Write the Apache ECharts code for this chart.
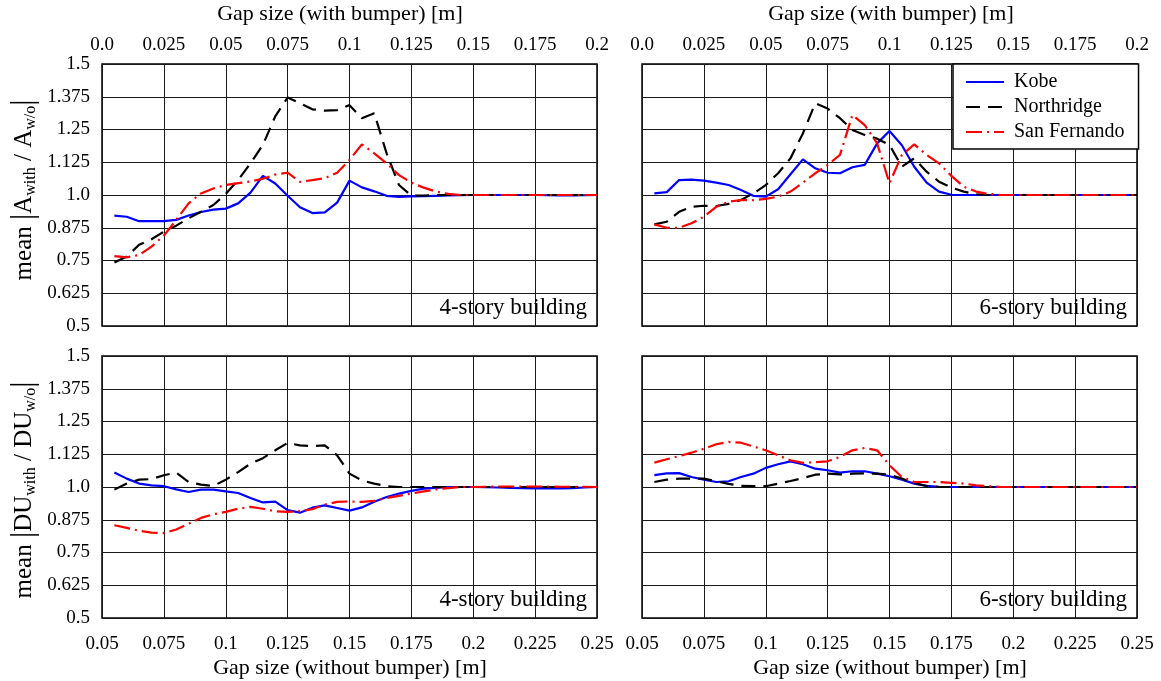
<!DOCTYPE html>
<html>
<head>
<meta charset="utf-8">
<script src="https://cdn.jsdelivr.net/npm/echarts@6/dist/echarts.min.js"></script>
<style>
html,body{margin:0;padding:0;background:#fff;}
#chart{width:1161px;height:681px;}
</style>
</head>
<body>
<div id="chart"></div>
<script>
// Gap sizes
var gapWith = [0.005,0.010,0.015,0.020,0.025,0.030,0.035,0.040,0.045,0.050,
  0.055,0.060,0.065,0.070,0.075,0.080,0.085,0.090,0.095,0.100,
  0.105,0.110,0.115,0.120,0.125,0.130,0.135,0.140,0.145,0.150,
  0.155,0.160,0.165,0.170,0.175,0.180,0.185,0.190,0.195,0.200];
var gapWithout = [0.055,0.060,0.065,0.070,0.075,0.080,0.085,0.090,0.095,0.100,
  0.105,0.110,0.115,0.120,0.125,0.130,0.135,0.140,0.145,0.150,
  0.155,0.160,0.165,0.170,0.175,0.180,0.185,0.190,0.195,0.200,
  0.205,0.210,0.215,0.220,0.225,0.230,0.235,0.240,0.245,0.250];

var seriesNames = ['Kobe','Northridge','San Fernando'];
var panelLabels = ['4-story building','6-story building','4-story building','6-story building'];
var yTicks = [0.5,0.625,0.75,0.875,1.0,1.125,1.25,1.375,1.5];
var xTopTicks = [0,0.025,0.05,0.075,0.1,0.125,0.15,0.175,0.2];
var xBottomTicks = [0.05,0.075,0.1,0.125,0.15,0.175,0.2,0.225,0.25];

// Acceleration ratio, 4-story (top-left), x = gap with bumper
var accel4Kobe = [0.921,0.917,0.900,0.900,0.900,0.905,0.922,0.935,0.944,0.948,
  0.968,1.009,1.073,1.044,0.997,0.953,0.931,0.934,0.971,1.055,
  1.029,1.014,0.997,0.993,0.995,0.996,0.997,0.998,0.999,1.000,
  1.000,1.000,1.000,1.000,1.000,0.999,0.998,0.998,0.999,1.000];
var accel4North = [0.742,0.765,0.810,0.831,0.860,0.883,0.911,0.936,0.962,1.004,
  1.057,1.121,1.191,1.300,1.372,1.350,1.327,1.322,1.324,1.343,
  1.293,1.312,1.159,1.038,0.997,0.998,1.000,1.000,1.000,1.000,
  1.000,1.000,1.000,1.000,1.000,1.000,1.000,1.000,1.000,1.000];
var accel4SanF = [0.767,0.762,0.771,0.803,0.845,0.905,0.968,1.006,1.025,1.038,
  1.045,1.052,1.062,1.078,1.085,1.050,1.057,1.064,1.085,1.134,
  1.193,1.159,1.121,1.076,1.047,1.028,1.013,1.004,1.000,1.000,
  1.000,1.000,1.000,1.000,1.000,1.000,1.000,1.000,1.000,1.000];

// Acceleration ratio, 6-story (top-right)
var accel6Kobe = [1.006,1.011,1.057,1.059,1.055,1.047,1.038,1.019,0.997,0.994,
  1.022,1.079,1.136,1.102,1.085,1.083,1.106,1.115,1.197,1.244,
  1.190,1.108,1.047,1.013,1.001,1.000,1.000,1.000,1.000,1.000,
  1.000,1.000,1.000,1.000,1.000,1.000,1.000,1.000,1.000,1.000];
var accel6North = [0.888,0.898,0.936,0.955,0.959,0.958,0.966,0.981,1.006,1.038,
  1.083,1.140,1.235,1.350,1.330,1.293,1.248,1.229,1.215,1.191,
  1.108,1.140,1.089,1.051,1.028,1.013,1.003,1.000,1.000,1.000,
  1.000,1.000,1.000,1.000,1.000,1.000,1.000,1.000,1.000,1.000];
var accel6SanF = [0.888,0.875,0.875,0.892,0.917,0.955,0.974,0.981,0.980,0.985,
  0.994,1.013,1.047,1.083,1.115,1.153,1.305,1.267,1.197,1.045,
  1.153,1.193,1.153,1.121,1.073,1.032,1.013,1.004,1.000,1.000,
  1.000,1.000,1.000,1.000,1.000,1.000,1.000,1.000,1.000,1.000];

// Drift ratio, 4-story (bottom-left), x = gap without bumper
var drift4Kobe = [1.055,1.032,1.013,1.006,1.003,0.991,0.981,0.990,0.990,0.983,
  0.977,0.958,0.941,0.944,0.912,0.902,0.921,0.930,0.920,0.910,
  0.922,0.944,0.962,0.975,0.985,0.994,0.997,1.000,1.000,1.000,
  0.999,0.998,0.997,0.996,0.995,0.995,0.995,0.996,0.998,1.000];
var drift4North = [0.990,1.013,1.028,1.030,1.045,1.055,1.019,1.009,1.004,1.028,
  1.057,1.089,1.110,1.140,1.168,1.159,1.156,1.159,1.121,1.051,
  1.025,1.013,1.003,1.000,1.000,1.000,1.000,1.000,1.000,1.000,
  1.000,1.000,1.000,1.000,1.000,1.000,1.000,1.000,1.000,1.000];
var drift4SanF = [0.854,0.844,0.833,0.826,0.824,0.838,0.860,0.882,0.896,0.905,
  0.917,0.924,0.917,0.907,0.905,0.908,0.915,0.933,0.943,0.945,
  0.943,0.947,0.958,0.966,0.975,0.983,0.991,0.996,1.000,1.000,
  1.001,1.002,1.002,1.002,1.002,1.002,1.001,1.001,1.001,1.000];

// Drift ratio, 6-story (bottom-right)
var drift6Kobe = [1.045,1.052,1.053,1.038,1.028,1.019,1.022,1.038,1.051,1.073,
  1.087,1.098,1.087,1.070,1.064,1.055,1.060,1.060,1.051,1.041,
  1.028,1.013,1.004,1.001,1.000,1.000,1.000,1.000,1.000,1.000,
  1.000,1.000,1.000,1.000,1.000,1.000,1.000,1.000,1.000,1.000];
var drift6North = [1.019,1.028,1.032,1.032,1.032,1.022,1.012,1.004,1.003,1.003,
  1.013,1.023,1.034,1.047,1.051,1.048,1.051,1.052,1.051,1.047,
  1.032,1.015,1.004,1.000,1.000,1.000,1.000,1.000,1.000,1.000,
  1.000,1.000,1.000,1.000,1.000,1.000,1.000,1.000,1.000,1.000];
var drift6SanF = [1.093,1.106,1.118,1.131,1.146,1.163,1.172,1.169,1.155,1.140,
  1.121,1.102,1.092,1.095,1.098,1.115,1.140,1.149,1.140,1.083,
  1.038,1.019,1.019,1.019,1.016,1.013,1.006,1.003,1.000,1.000,
  1.000,1.000,1.000,1.000,1.000,1.000,1.000,1.000,1.000,1.000];

var FONT = '"Liberation Serif","Times New Roman",serif';
var colors = ['#0000ff','#000000','#ff0000'];
var dashes = ['solid',[14,8],[16,5,2,5]];

function fmt(v){
  var s = String(+(+v).toFixed(4));
  if (s === '0') return '0.0';
  if (s === '1') return '1.0';
  return s;
}

var grids = [
  {left:102, top:64, width:495, height:262},
  {left:642, top:64, width:495, height:262},
  {left:102, top:356, width:495, height:262},
  {left:642, top:356, width:495, height:262}
];

var panelData = [
  {x: gapWith, ys: [accel4Kobe, accel4North, accel4SanF]},
  {x: gapWith, ys: [accel6Kobe, accel6North, accel6SanF]},
  {x: gapWithout, ys: [drift4Kobe, drift4North, drift4SanF]},
  {x: gapWithout, ys: [drift6Kobe, drift6North, drift6SanF]}
];

var xAxes = [], yAxes = [], series = [], gridOpts = [];
grids.forEach(function(g, i){
  gridOpts.push({left:g.left, top:g.top, width:g.width, height:g.height, show:true,
    borderColor:'#000', borderWidth:1.5, backgroundColor:'#fff', containLabel:false});
  var isTop = i < 2;
  var ticks = isTop ? xTopTicks : xBottomTicks;
  xAxes.push({
    type:'value', gridIndex:i, position: isTop ? 'top' : 'bottom',
    min: ticks[0], max: ticks[ticks.length-1], interval: 0.025,
    axisLine:{show:false}, axisTick:{show:false},
    splitLine:{show:true, lineStyle:{color:'#1a1a1a', width:1}},
    axisLabel:{show:true, formatter:fmt, fontFamily:FONT, fontSize:19, color:'#000',
      margin: isTop ? 9 : 17, showMinLabel:true, showMaxLabel:true}
  });
  yAxes.push({
    type:'value', gridIndex:i,
    min: yTicks[0], max: yTicks[yTicks.length-1], interval: 0.125,
    axisLine:{show:false}, axisTick:{show:false},
    splitLine:{show:true, lineStyle:{color:'#1a1a1a', width:1}},
    axisLabel:{show: (i % 2 === 0), formatter:fmt, fontFamily:FONT, fontSize:19, color:'#000', margin:12}
  });
  var pd = panelData[i];
  for (var s = 0; s < 3; s++) {
    series.push({
      type:'line', name: seriesNames[s], xAxisIndex:i, yAxisIndex:i,
      symbol:'none', showSymbol:false, smooth:false,
      data: pd.x.map(function(xv, k){ return [xv, pd.ys[s][k]]; }),
      lineStyle:{color:colors[s], width:2.2, type:dashes[s]},
      itemStyle:{color:colors[s]},
      z: 3 + s
    });
  }
});

var rich = {
  m:{fontFamily:FONT, fontSize:25, lineHeight:30, color:'#000'},
  b:{fontFamily:FONT, fontSize:31, lineHeight:30, color:'#000'},
  s:{fontFamily:FONT, fontSize:16, lineHeight:10, verticalAlign:'bottom', color:'#000'}
};

var graphics = [];
function addText(x, y, text, size, align, rot){
  graphics.push({type:'text', x:x, y:y, rotation: rot || 0, z:10,
    style:{text:text, fontFamily:FONT, fontSize:size, font: size + 'px ' + FONT, fill:'#000',
      textAlign:align, align:align, textVerticalAlign:'middle', verticalAlign:'middle'}});
}
addText(340, 14, 'Gap size (with bumper) [m]', 22, 'center');
addText(891, 14, 'Gap size (with bumper) [m]', 22, 'center');
addText(350, 668, 'Gap size (without bumper) [m]', 22, 'center');
addText(890, 668, 'Gap size (without bumper) [m]', 22, 'center');
addText(587, 308, panelLabels[0], 23, 'right');
addText(1127, 308, panelLabels[1], 23, 'right');
addText(587, 600, panelLabels[2], 23, 'right');
addText(1127, 600, panelLabels[3], 23, 'right');

graphics.push({type:'text', x:24, y:190, rotation:Math.PI/2, z:10,
  style:{text:'{m|mean }{b||}{m|A}{s|with}{m| / A}{s|w/o}{b||}', rich:rich,
    textAlign:'center', align:'center', textVerticalAlign:'middle', verticalAlign:'middle', fill:'#000'}});
graphics.push({type:'text', x:24, y:490, rotation:Math.PI/2, z:10,
  style:{text:'{m|mean }{b||}{m|DU}{s|with}{m| / DU}{s|w/o}{b||}', rich:rich,
    textAlign:'center', align:'center', textVerticalAlign:'middle', verticalAlign:'middle', fill:'#000'}});

var chart = echarts.init(document.getElementById('chart'), null, {renderer:'canvas'});
chart.setOption({
  animation:false,
  backgroundColor:'#fff',
  grid: gridOpts,
  xAxis: xAxes,
  yAxis: yAxes,
  legend:{
    data: seriesNames, orient:'vertical', left:953, top:64,
    itemWidth:38, itemHeight:20, itemGap:5,
    padding:[8,14,7,12],
    borderColor:'#000', borderWidth:1.5, borderRadius:0, backgroundColor:'#fff',
    itemStyle:{opacity:0, borderWidth:0},
    textStyle:{fontFamily:FONT, fontSize:20, color:'#000', padding:[0,0,0,5]},
    selectedMode:false
  },
  series: series,
  graphic: graphics
});
</script>
</body>
</html>
